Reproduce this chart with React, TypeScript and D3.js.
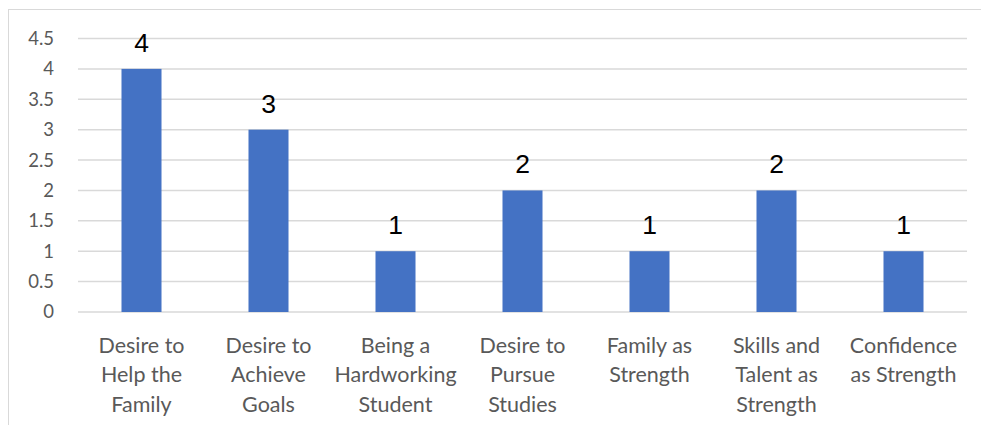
import React from "react";
import * as d3 from "d3";

const categories: string[][] = [
  ["Desire to", "Help the", "Family"],
  ["Desire to", "Achieve", "Goals"],
  ["Being a", "Hardworking", "Student"],
  ["Desire to", "Pursue", "Studies"],
  ["Family as", "Strength"],
  ["Skills and", "Talent as", "Strength"],
  ["Confidence", "as Strength"],
];
const values: number[] = [4, 3, 1, 2, 1, 2, 1];
const yTicks: number[] = [0, 0.5, 1, 1.5, 2, 2.5, 3, 3.5, 4, 4.5];

const W = 981;
const H = 425;
const FONT = "Lato, 'Open Sans', sans-serif";

export default function App() {
  const left = 78, right = 967, top = 38.5, bottom = 312;
  const x = d3
    .scaleBand<number>()
    .domain(values.map((_, i) => i))
    .range([left, right])
    .paddingInner(0.685)
    .paddingOuter(0.3425);
  const y = d3.scaleLinear().domain([0, 4.5]).range([bottom, top]);
  const band = (right - left) / categories.length;
  return (
    <svg
      width={W}
      height={H}
      style={{ position: "absolute", left: 0, top: 0, background: "#fff" }}
    >
      <rect x={8.5} y={9.5} width={W + 10} height={H + 10} fill="#fff" stroke="#d9d9d9" strokeWidth={1} />
      {yTicks.map((t) => (
        <g key={t}>
          <line x1={left} x2={right} y1={y(t)} y2={y(t)} stroke="#d9d9d9" strokeWidth={1.5} />
          <text
            x={54}
            y={y(t)}
            dy="0.35em"
            textAnchor="end"
            fontFamily={FONT}
            fontSize={18.5}
            fill="#595959"
          >
            {t}
          </text>
        </g>
      ))}
      {values.map((v, i) => (
        <g key={i}>
          <rect
            x={x(i)!}
            y={y(v)}
            width={x.bandwidth()}
            height={y(0) - y(v)}
            fill="#4472c4"
          />
          <text
            x={x(i)! + x.bandwidth() / 2}
            y={y(v) - 17}
            textAnchor="middle"
            fontFamily="'Liberation Sans', Arial, sans-serif"
            fontSize={26.5}
            fill="#000"
          >
            {v}
          </text>
          {categories[i].map((line, j) => (
            <text
              key={j}
              x={left + band * (i + 0.5)}
              y={352.5 + j * 29.5}
              textAnchor="middle"
              fontFamily={FONT}
              fontSize={21.5}
              fill="#595959"
            >
              {line}
            </text>
          ))}
        </g>
      ))}
    </svg>
  );
}
